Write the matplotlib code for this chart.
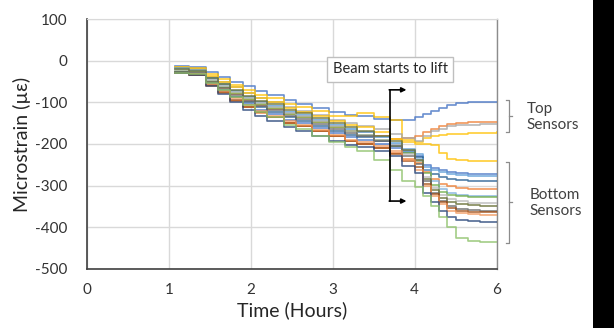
import matplotlib
matplotlib.use("Agg")
import matplotlib.pyplot as plt
from matplotlib.patches import Rectangle

plt.rcParams['font.family'] = ['Lato', 'DejaVu Sans']
plt.rcParams['axes.unicode_minus'] = False

# Time axis (plot units; the final tick is labelled "6" in the original)
time = [1.07, 1.25, 1.45, 1.6, 1.75, 1.9, 2.05, 2.2, 2.4, 2.55, 2.75, 2.95, 3.15, 3.3, 3.5, 3.7,
        3.85, 4.0, 4.1, 4.2, 4.3, 4.4, 4.5, 4.65, 4.8, 5.0]

# Top sensors
top_blue   = [-13, -15, -27, -38, -50, -60, -72, -82, -95, -105, -113, -124, -130, -134, -139, -143,
              -143, -135, -128, -120, -113, -107, -102, -100, -99, -99]
top_gold   = [-14, -17, -32, -45, -58, -70, -82, -90, -104, -112, -120, -132, -134, -126, -136, -142,
              -190, -195, -185, -180, -178, -176, -175, -174, -173, -172]
top_orange = [-28, -30, -52, -66, -80, -94, -106, -116, -128, -136, -148, -160, -168, -172, -180, -188,
              -186, -180, -172, -165, -158, -153, -150, -148, -147, -147]
top_gray   = [-16, -20, -38, -52, -64, -78, -90, -100, -112, -120, -130, -142, -150, -156, -164, -175,
              -185, -192, -180, -170, -163, -158, -155, -154, -153, -152]

# Bottom sensors
bot_gold    = [-15, -19, -36, -50, -64, -78, -90, -100, -114, -122, -132, -144, -154, -160, -172, -188,
               -195, -200, -200, -203, -222, -236, -239, -240, -241, -241]
bot_blue    = [-30, -33, -56, -72, -88, -104, -118, -128, -142, -150, -162, -174, -184, -190, -200, -210,
               -218, -228, -250, -258, -263, -267, -270, -272, -273, -273]
bot_lblue   = [-18, -22, -42, -57, -72, -86, -98, -108, -122, -130, -142, -154, -164, -172, -184, -198,
               -212, -225, -255, -263, -268, -272, -275, -277, -278, -278]
bot_mblue   = [-28, -31, -54, -70, -86, -100, -112, -122, -136, -144, -156, -168, -178, -184, -194, -206,
               -220, -232, -262, -272, -279, -284, -287, -288, -289, -289]
bot_orange  = [-30, -34, -60, -78, -96, -112, -126, -136, -150, -158, -170, -182, -194, -200, -210, -222,
               -235, -245, -268, -285, -295, -302, -305, -307, -308, -308]
bot_sky     = [-20, -24, -44, -58, -73, -86, -98, -108, -122, -130, -142, -154, -164, -172, -184, -200,
               -218, -235, -262, -290, -308, -318, -322, -324, -325, -325]
bot_green   = [-24, -28, -48, -63, -78, -92, -104, -114, -128, -136, -148, -160, -170, -178, -190, -204,
               -222, -240, -270, -298, -315, -322, -326, -327, -328, -328]
bot_gray    = [-22, -26, -46, -61, -76, -90, -102, -112, -126, -134, -146, -158, -170, -178, -190, -202,
               -225, -242, -280, -305, -322, -333, -338, -341, -342, -342]
bot_olive   = [-20, -24, -42, -56, -70, -84, -96, -104, -118, -126, -138, -150, -160, -168, -180, -194,
               -215, -238, -285, -310, -330, -340, -345, -347, -348, -348]
bot_dgray   = [-26, -30, -50, -66, -82, -96, -108, -118, -132, -140, -152, -164, -174, -182, -194, -206,
               -230, -248, -290, -318, -338, -350, -356, -359, -360, -360]
bot_brown   = [-30, -34, -58, -76, -94, -110, -124, -136, -150, -158, -170, -182, -194, -200, -210, -224,
               -240, -255, -295, -320, -340, -354, -360, -363, -364, -364]
bot_lorange = [-29, -33, -56, -72, -90, -106, -120, -132, -146, -154, -166, -178, -190, -196, -206, -218,
               -238, -262, -300, -326, -345, -360, -366, -369, -370, -370]
bot_navy    = [-30, -34, -60, -80, -100, -118, -134, -146, -160, -168, -180, -192, -202, -208, -218, -230,
               -252, -270, -318, -340, -362, -375, -382, -386, -388, -388]
bot_lgreen  = [-30, -33, -54, -70, -88, -106, -122, -136, -154, -164, -180, -196, -208, -218, -238, -263,
               -290, -303, -325, -350, -375, -400, -425, -433, -435, -436]

series = [
    (top_blue, '#4472C4'), (top_gold, '#FFC000'), (top_orange, '#ED7D31'), (top_gray, '#A5A5A5'),
    (bot_gold, '#FFC000'), (bot_blue, '#4472C4'), (bot_lblue, '#5B9BD5'), (bot_mblue, '#255E91'),
    (bot_orange, '#ED7D31'), (bot_sky, '#7CAFDD'), (bot_green, '#70AD47'), (bot_gray, '#B7B7B7'),
    (bot_olive, '#636B2F'), (bot_dgray, '#636363'), (bot_brown, '#9E480E'), (bot_lorange, '#F1975A'),
    (bot_navy, '#264478'), (bot_lgreen, '#8CC168'),
]

x_ticks = [0, 1, 2, 3, 4, 5]
x_tick_labels = ['0', '1', '2', '3', '4', '6']
y_ticks = [-500, -400, -300, -200, -100, 0, 100]

fig = plt.figure(figsize=(6.14, 3.28), dpi=100)
ax = fig.add_axes([0.1417, 0.180, 0.667, 0.762])

for vals, col in series:
    ax.plot(time, vals, color=col, lw=1.2, alpha=0.8, drawstyle='steps-post', zorder=3)

ax.set_xlim(0, 5)
ax.set_ylim(-500, 100)
ax.set_xticks(x_ticks)
ax.set_xticklabels(x_tick_labels)
ax.set_yticks(y_ticks)
ax.grid(True, color='#D9D9D9', lw=1.0, zorder=0)
ax.set_axisbelow(True)
ax.tick_params(length=0, labelsize=11, colors='#333333', pad=10)
ax.tick_params(axis='y', pad=14)
for s in ['left', 'bottom']:
    ax.spines[s].set_color('#404040')
    ax.spines[s].set_linewidth(1.2)
ax.spines['right'].set_color('#8C8C8C')
ax.spines['right'].set_linewidth(1.0)
ax.spines['top'].set_color('#D9D9D9')

ax.set_xlabel('Time (Hours)', fontsize=14, color='#262626', labelpad=3)
ax.set_ylabel('Microstrain (µε)', fontsize=14, color='#262626', labelpad=3)

# annotation box
ax.text(3.70, -21, 'Beam starts to lift', ha='center', va='center', fontsize=10.5, color='#262626',
        bbox=dict(boxstyle='square,pad=0.35', fc='white', ec='#BFBFBF', lw=1.0), zorder=5)
ax.plot([3.70, 3.70], [-70, -337], color='black', lw=1.2, zorder=5)
for yv in (-70, -337):
    ax.annotate('', xy=(3.90, yv), xytext=(3.69, yv),
                arrowprops=dict(arrowstyle='-|>', color='black', lw=1.2, mutation_scale=7,
                                shrinkA=0, shrinkB=0), zorder=5)

# brackets
bc = '#8C8C8C'
for y0, y1, ym in ((-95, -172, -133), (-244, -438, -340)):
    ax.plot([5.11, 5.15, 5.15, 5.11], [y0, y0, y1, y1], color=bc, lw=0.9, clip_on=False)
    ax.plot([5.15, 5.19], [ym, ym], color=bc, lw=0.9, clip_on=False)

ax.text(5.37, -135, 'Top\nSensors', ha='left', va='center', fontsize=11, color='#404040',
        linespacing=1.15)
ax.text(5.40, -342, 'Bottom\nSensors', ha='left', va='center', fontsize=11, color='#404040',
        linespacing=1.15)

fig.patches.append(Rectangle((0.9658, 0), 0.0342, 1, transform=fig.transFigure,
                             fc='black', ec='none'))

fig.savefig('out.png', dpi=100)
